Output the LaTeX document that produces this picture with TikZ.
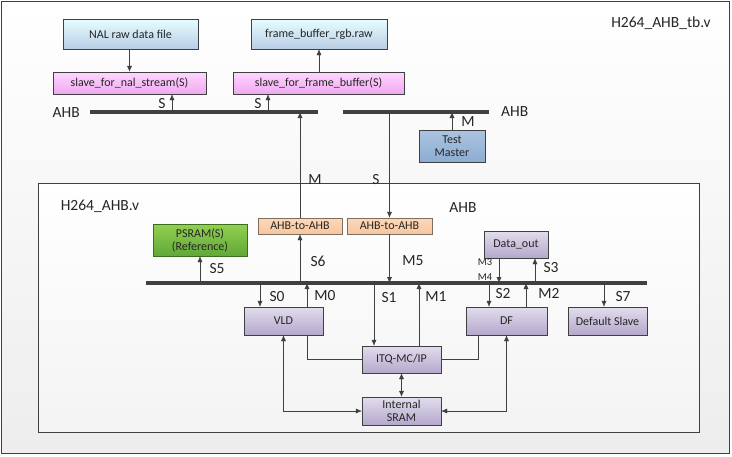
\documentclass[tikz,border=0pt]{standalone}
\usepackage{fontspec}
\setmainfont{Carlito}
\usetikzlibrary{arrows.meta}
\definecolor{edge}{HTML}{404040}
\definecolor{ink}{HTML}{262626}
\begin{document}
\begin{tikzpicture}[x=1pt,y=-1pt,
  arr/.style={draw=edge,-{Latex[length=6pt,width=5pt]}},
  arrs/.style={draw=edge,{Latex[length=6pt,width=5pt]}-{Latex[length=6pt,width=5pt]}},
  bus/.style={draw=edge,line width=3.5pt},
  box/.style={draw=edge,text=ink,font=\fontsize{12}{13}\selectfont,inner sep=0pt,align=center},
  filebox/.style={box,top color=blue!4!cyan!10!white,bottom color={rgb,255:red,185;green,205;blue,229}},
  slavebox/.style={box,top color={rgb,255:red,255;green,214;blue,255},bottom color={rgb,255:red,240;green,168;blue,240}},
  mastbox/.style={box,top color={rgb,255:red,172;green,196;blue,224},bottom color={rgb,255:red,140;green,172;blue,210}},
  ahbbox/.style={box,draw={rgb,255:red,130;green,110;blue,95},top color={rgb,255:red,252;green,216;blue,186},bottom color={rgb,255:red,247;green,198;blue,158}},
  ipbox/.style={box,top color={rgb,255:red,226;green,221;blue,236},bottom color={rgb,255:red,180;green,168;blue,204}},
  lbl/.style={text=ink,font=\fontsize{15.5}{16}\selectfont,inner sep=0pt},
  tiny/.style={text=ink,font=\fontsize{10.5}{11}\selectfont,inner sep=0pt}]
\useasboundingbox (0,0) rectangle (732,456);
% frames
\draw[edge,top color=white,bottom color=gray!14] (1,1) rectangle (729,453);
\draw[edge,top color=white,bottom color=gray!9] (38,183) rectangle (699,432);
\node[lbl] (tbname) at (661,23) {H264\_AHB\_tb.v};
\node[lbl] (topname) at (100,206) {H264\_AHB.v};
\node[lbl] (ahbin) at (463,208) {AHB};

% testbench side
\node[filebox,minimum width=135,minimum height=30] (nal) at (130.5,34) {NAL raw data file};
\node[filebox,minimum width=136,minimum height=30] (fbraw) at (319,34) {frame\_buffer\_rgb.raw};
\node[slavebox,minimum width=153,minimum height=22] (slnal) at (129.5,83) {slave\_for\_nal\_stream(S)};
\node[slavebox,minimum width=171,minimum height=22] (slfb) at (318.5,83) {slave\_for\_frame\_buffer(S)};
\node[mastbox,minimum width=66,minimum height=32,font=\fontsize{12}{13.5}\selectfont] (tm) at (452,146) {Test\\Master};

% top AHB buses
\coordinate (tbL1) at (90,112);
\coordinate (tbL2) at (318,112);
\coordinate (tbR1) at (343,112);
\coordinate (tbR2) at (489,112);
\draw[bus] (tbL1) -- (tbL2);
\draw[bus] (tbR1) -- (tbR2);
\node[lbl,anchor=east] (ahbl) at (80,113) {AHB};
\node[lbl,anchor=west] (ahbr) at (501,112) {AHB};

\draw[arr] (nal.south -| slnal.north) -- (slnal.north);
\draw[arr] (slfb.north -| fbraw.south) -- (fbraw.south);
\draw[arr] ([xshift=42.5pt]slnal.south |- tbL1) -- ([xshift=42.5pt]slnal.south);
\node[lbl] (sa) at (162,104) {S};
\draw[arr] ([xshift=-50.5pt]slfb.south |- tbL1) -- ([xshift=-50.5pt]slfb.south);
\node[lbl] (sb) at (258,104) {S};
\draw[arr] (tm.north) -- (tm.north |- tbR1);
\node[lbl] (mt) at (468,122) {M};

% AHB-to-AHB bridges
\node[ahbbox,minimum width=84,minimum height=16] (brA) at (300,226) {AHB-to-AHB};
\node[ahbbox,minimum width=85,minimum height=16] (brB) at (389.5,226) {AHB-to-AHB};
\draw[arr] (brA.north) -- (brA.north |- tbL1);
\node[lbl] (mbr) at (315,180) {M};
\draw[arr] (brB.north |- tbR1) -- (brB.north);
\node[lbl] (sbr) at (376,180) {S};

% inner AHB bus
\coordinate (mb1) at (146,283);
\coordinate (mb2) at (647,283);
\draw[bus] (mb1) -- (mb2);

\node[box,draw={rgb,255:red,60;green,110;blue,30},top color={rgb,255:red,146;green,208;blue,80},bottom color={rgb,255:red,96;green,168;blue,56},minimum width=94,minimum height=32] (psram) at (200,240) {PSRAM(S)\\(Reference)};
\node[ipbox,minimum width=79,minimum height=28] (vld) at (283.5,321) {VLD};
\node[ipbox,minimum width=79,minimum height=27] (itq) at (401.5,359.5) {ITQ-MC/IP};
\node[ipbox,minimum width=79,minimum height=28] (sram) at (401.5,411) {Internal\\SRAM};
\node[ipbox,minimum width=81,minimum height=28] (df) at (506.5,321) {DF};
\node[ipbox,minimum width=64,minimum height=27] (dout) at (516,244.5) {Data\_out};
\node[ipbox,minimum width=79,minimum height=28] (dslave) at (607.5,321) {Default Slave};

% bus ports
\draw[arr] (psram.south |- mb1) -- (psram.south);
\node[lbl] (s5) at (217,269) {S5};
\draw[arr] (brA.south |- mb1) -- (brA.south);
\node[lbl] (s6) at (318,261) {S6};
\draw[arr] (brB.south) -- (brB.south |- mb1);
\node[lbl] (m5) at (413,261) {M5};
\draw[arr] ([xshift=-23.5pt]vld.north |- mb1) -- ([xshift=-23.5pt]vld.north);
\node[lbl] (s0) at (277,297) {S0};
\draw[arr] ([xshift=23.5pt]vld.north) -- ([xshift=23.5pt]vld.north |- mb1);
\node[lbl] (m0) at (325,296) {M0};
\draw[arr] ([xshift=-27.5pt]itq.north |- mb1) -- ([xshift=-27.5pt]itq.north);
\node[lbl] (s1) at (389,298) {S1};
\draw[arr] ([xshift=17.5pt]itq.north) -- ([xshift=17.5pt]itq.north |- mb1);
\node[lbl] (m1) at (436,297) {M1};
\draw[arr] ([xshift=-17.5pt]df.north |- mb1) -- ([xshift=-17.5pt]df.north);
\node[lbl] (s2) at (503,294) {S2};
\draw[arr] ([xshift=19.5pt]df.north) -- ([xshift=19.5pt]df.north |- mb1);
\node[lbl] (m2) at (549,293) {M2};
\draw[arr] ([xshift=-17pt]dout.south) -- ([xshift=-17pt]dout.south |- mb1);
\node[tiny] (m3) at (485,262) {M3};
\node[tiny] (m4) at (485,277) {M4};
\draw[arr] ([xshift=19pt]dout.south |- mb1) -- ([xshift=19pt]dout.south);
\node[lbl] (s3) at (551,268) {S3};
\draw[arr] ([xshift=-3.5pt]dslave.north |- mb1) -- ([xshift=-3.5pt]dslave.north);
\node[lbl] (s7) at (623,297) {S7};

% internal links
\draw[edge] ([xshift=23.5pt]vld.south) |- (itq.west);
\draw[edge] ([xshift=-28.5pt]df.south) |- (itq.east);
\draw[arrs] (itq.south) -- (sram.north);
\draw[arrs] (vld.south) |- (sram.west);
\draw[arrs] (df.south) |- (sram.east);
\end{tikzpicture}
\end{document}
